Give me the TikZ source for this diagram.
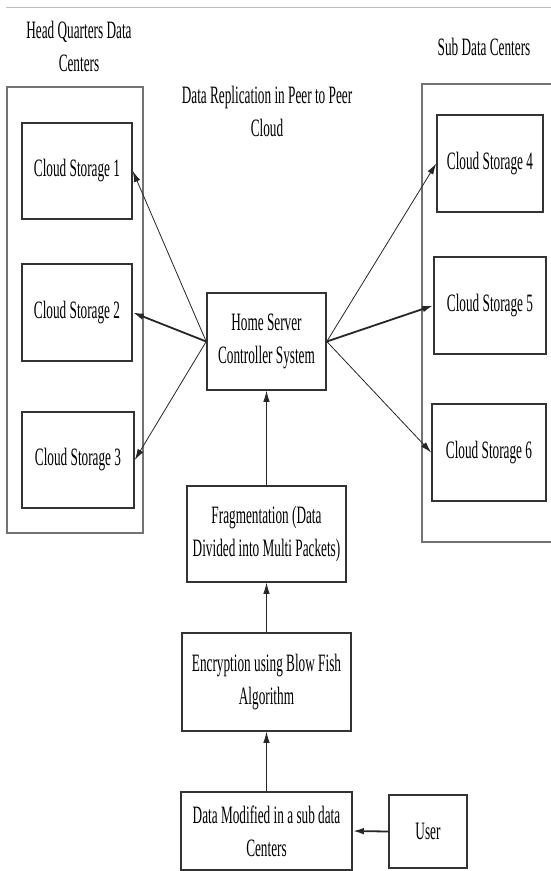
\documentclass[tikz,border=0pt]{standalone}
\usepackage{fontspec}
\setmainfont{Liberation Serif}[FakeStretch=0.53]
\usetikzlibrary{arrows.meta}
\tikzset{
  box/.style={draw=black!80, line width=1.6pt, rectangle, align=center, inner sep=0pt,
    font=\fontsize{25}{33}\selectfont},
  lbl/.style={align=center, inner sep=0pt, font=\fontsize{25}{33}\selectfont},
  container/.style={draw=black!55, line width=1.6pt},
  arr/.style={-{Latex[length=11pt,width=6.5pt]}, line width=0.8pt, draw=black!85},
  arrthick/.style={arr, line width=1.8pt},
}
\begin{document}
\begin{tikzpicture}[x=1pt,y=-1pt]
\useasboundingbox (0,0) rectangle (551,871);
\fill[white] (0,0) rectangle (551,871);
\draw[black!25, line width=1pt] (6,7) -- (551,7);
% containers
\draw[container] (7,87) rectangle (143,533);
\draw[container] (553,84) -- (422,84) -- (422,542) -- (553,542);
% labels
\node[lbl] (hq) at (79,46) {Head Quarters Data\\Centers};
\node[lbl] (sub) at (484,47) {Sub Data Centers};
\node[lbl] (title) at (267,111) {Data Replication in Peer to Peer\\Cloud};
% boxes
\node[box, minimum width=110pt, minimum height=96pt] (cs1) at (77,171) {Cloud Storage 1};
\node[box, minimum width=110pt, minimum height=97pt] (cs2) at (77,312.5) {Cloud Storage 2};
\node[box, minimum width=112pt, minimum height=96pt] (cs3) at (78,460) {Cloud Storage 3};
\node[box, minimum width=106pt, minimum height=97pt] (cs4) at (490,163.5) {Cloud Storage 4};
\node[box, minimum width=112pt, minimum height=97pt] (cs5) at (490,305.5) {Cloud Storage 5};
\node[box, minimum width=114pt, minimum height=97pt] (cs6) at (489,452.5) {Cloud Storage 6};
\node[box, minimum width=119pt, minimum height=97pt] (hs) at (266.5,341.5) {Home Server\\Controller System};
\node[box, minimum width=159pt, minimum height=96pt] (frag) at (266.5,534) {Fragmentation (Data\\Divided into Multi Packets)};
\node[box, minimum width=169pt, minimum height=98pt] (enc) at (266.5,682) {Encryption using Blow Fish\\Algorithm};
\node[box, minimum width=171pt, minimum height=78pt] (dm) at (266.5,831) {Data Modified in a sub data\\Centers};
\node[box, minimum width=78pt, minimum height=73pt] (user) at (428,831.5) {User};
% arrows
\draw[arr] (hs.west) -- (cs1.east);
\draw[arrthick] (hs.west) -- (cs2.east);
\draw[arr] (hs.west) -- (cs3.east);
\draw[arr] (hs.east) -- (cs4.west);
\draw[arrthick] (hs.east) -- (cs5.west);
\draw[arr] (hs.east) -- (cs6.west);
\draw[arr] (frag.north) -- (hs.south);
\draw[arr] (enc.north) -- (frag.south);
\draw[arr] (dm.north) -- (enc.south);
\draw[arrthick] (user.west) -- (dm.east);
\end{tikzpicture}
\end{document}
